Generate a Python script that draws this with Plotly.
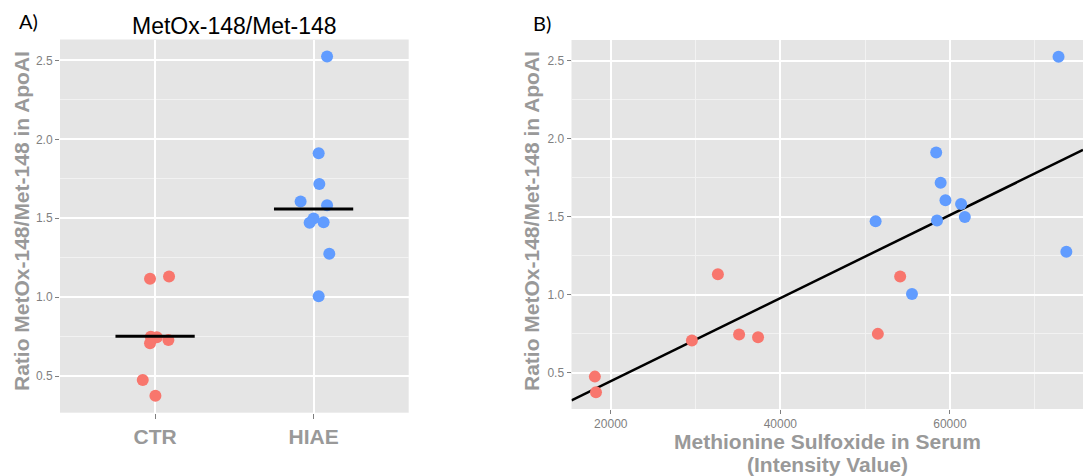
import numpy as np
import plotly.graph_objects as go

# ---------------- data ----------------
groups = ["CTR", "HIAE"]
ctr_ratio = [1.116, 1.131, 0.749, 0.745, 0.728, 0.707, 0.475, 0.375]
ctr_jitter = [-0.032, 0.088, -0.027, 0.011, 0.084, -0.032, -0.078, 0.002]
ctr_serum = [54131, 32631, 51500, 35131, 37368, 29565, 18118, 18250]

hiae_ratio = [2.525, 1.911, 1.717, 1.606, 1.582, 1.498, 1.471, 1.475, 1.275, 1.005]
hiae_jitter = [0.085, 0.032, 0.036, -0.082, 0.085, 0.0, -0.025, 0.063, 0.099, 0.032]
hiae_serum = [72815, 58382, 58908, 59475, 61317, 61760, 51237, 58480, 73737, 55526]

group_median = [0.752, 1.559]

y_ticks = [0.5, 1.0, 1.5, 2.0, 2.5]
y_minor = [0.75, 1.25, 1.75, 2.25]
x_ticks_b = [20000, 40000, 60000]
x_minor_b = [30000, 50000, 70000]

RED = "#F8766D"
BLUE = "#619CFF"
PANEL = "#E5E5E5"
TICKCOL = "#7F7F7F"
TITLECOL = "#999999"

W, H = 1083, 476

def px_x(p):
    return p / W

def px_y(p):
    return 1 - p / H

yr = [0.2675, 2.6325]
xr_b = [15363, 75700]

fig = go.Figure()

# ---------------- panel A ----------------
fig.add_trace(go.Scatter(
    x=[1 + j for j in ctr_jitter], y=ctr_ratio, mode="markers",
    marker=dict(color=RED, size=12, line=dict(width=0)),
    xaxis="x", yaxis="y", showlegend=False))
fig.add_trace(go.Scatter(
    x=[2 + j for j in hiae_jitter], y=hiae_ratio, mode="markers",
    marker=dict(color=BLUE, size=12, line=dict(width=0)),
    xaxis="x", yaxis="y", showlegend=False))
for i, m in enumerate(group_median):
    c = i + 1
    fig.add_trace(go.Scatter(
        x=[c - 0.25, c + 0.25], y=[m, m], mode="lines",
        line=dict(color="black", width=3),
        xaxis="x", yaxis="y", showlegend=False, hoverinfo="skip"))

# ---------------- panel B ----------------
all_serum = np.array(ctr_serum + hiae_serum, dtype=float)
all_ratio = np.array(ctr_ratio + hiae_ratio, dtype=float)
slope, intercept = np.polyfit(all_serum, all_ratio, 1)
lx = np.array(xr_b, dtype=float)
fig.add_trace(go.Scatter(
    x=lx, y=slope * lx + intercept, mode="lines",
    line=dict(color="black", width=2.5),
    xaxis="x2", yaxis="y2", showlegend=False, hoverinfo="skip"))
fig.add_trace(go.Scatter(
    x=ctr_serum, y=ctr_ratio, mode="markers",
    marker=dict(color=RED, size=12, line=dict(width=0)),
    xaxis="x2", yaxis="y2", showlegend=False))
fig.add_trace(go.Scatter(
    x=hiae_serum, y=hiae_ratio, mode="markers",
    marker=dict(color=BLUE, size=12, line=dict(width=0)),
    xaxis="x2", yaxis="y2", showlegend=False))

common_axis = dict(
    showline=False, zeroline=False, ticks="outside", ticklen=4,
    tickwidth=1, tickcolor=TICKCOL, gridcolor="white", gridwidth=1.8,
)

yaxis_common = dict(
    common_axis, range=yr, tickvals=y_ticks,
    ticktext=["0.5", "1.0", "1.5", "2.0", "2.5"],
    tickfont=dict(family="Liberation Sans", size=12, color=TICKCOL),
    minor=dict(tickvals=y_minor, showgrid=True, gridcolor="#F2F2F2",
               gridwidth=0.9, ticks=""),
)

fig.update_layout(
    width=W, height=H,
    margin=dict(l=0, r=0, t=0, b=0),
    paper_bgcolor="white", plot_bgcolor=PANEL,
    xaxis=dict(common_axis, domain=[px_x(60), px_x(408.7)], range=[0.4, 2.6],
               tickvals=[1, 2], ticktext=groups, ticklen=5,
               tickfont=dict(family="Liberation Sans", size=21, color=TITLECOL,
                             weight="bold"),
               anchor="y"),
    yaxis=dict(yaxis_common, domain=[px_y(412.7), px_y(39.5)], anchor="x"),
    xaxis2=dict(common_axis, domain=[px_x(571.5), 1.0], range=xr_b,
                tickvals=x_ticks_b, ticktext=[str(v) for v in x_ticks_b],
                tickfont=dict(family="Liberation Sans", size=12, color=TICKCOL),
                minor=dict(tickvals=x_minor_b, showgrid=True, gridcolor="#F2F2F2",
                           gridwidth=0.9, ticks=""),
                anchor="y2"),
    yaxis2=dict(yaxis_common, domain=[px_y(409), px_y(40)], anchor="x2"),
)

ann = []
# panel letters
ann.append(dict(text="A)", x=px_x(17), y=px_y(21.5), xanchor="left", yanchor="middle",
                font=dict(family="Lato", size=20, color="black")))
ann.append(dict(text="B)", x=px_x(531), y=px_y(22.5), xanchor="left", yanchor="middle",
                font=dict(family="Lato", size=20, color="black")))
# title A
ann.append(dict(text="MetOx-148/Met-148", x=px_x(234.3), y=px_y(26), xanchor="center",
                yanchor="middle", font=dict(family="Liberation Sans", size=23, color="black")))
# y titles
ytitle = "Ratio MetOx-148/Met-148 in ApoAI"
ann.append(dict(text=ytitle, x=px_x(21), y=px_y(221), textangle=-90,
                xanchor="center", yanchor="middle",
                font=dict(family="Liberation Sans", size=21, color=TITLECOL, weight="bold")))
ann.append(dict(text=ytitle, x=px_x(531), y=px_y(221), textangle=-90,
                xanchor="center", yanchor="middle",
                font=dict(family="Liberation Sans", size=21, color=TITLECOL, weight="bold")))
# x title B
ann.append(dict(text="Methionine Sulfoxide in Serum", x=px_x(827), y=px_y(441),
                xanchor="center", yanchor="middle",
                font=dict(family="Liberation Sans", size=21, color=TITLECOL, weight="bold")))
ann.append(dict(text="(Intensity Value)", x=px_x(827), y=px_y(464),
                xanchor="center", yanchor="middle",
                font=dict(family="Liberation Sans", size=21, color=TITLECOL, weight="bold")))
for a in ann:
    a.update(xref="paper", yref="paper", showarrow=False)
fig.update_layout(annotations=ann)

fig.write_html("out.html",
               config={"displayModeBar": False},
               post_script="document.body.style.margin='0px';document.body.style.overflow='hidden';")
